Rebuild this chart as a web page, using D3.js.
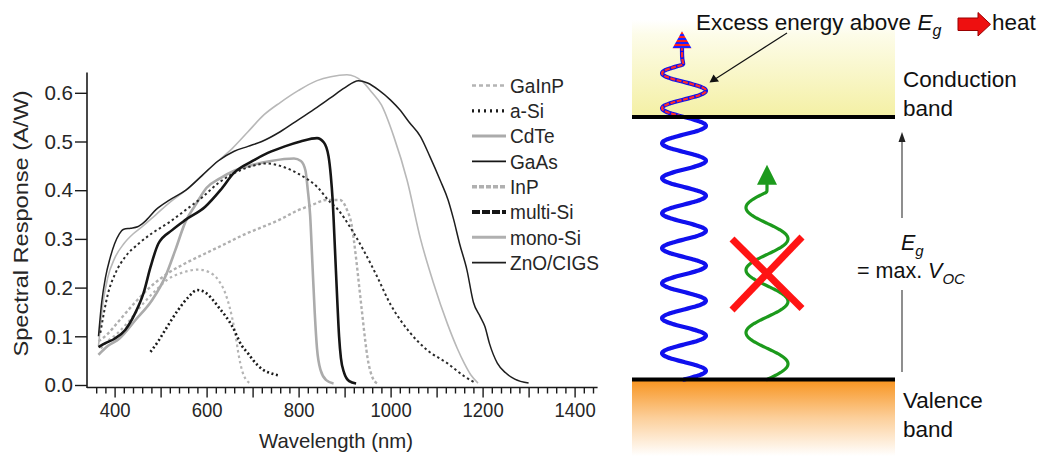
<!DOCTYPE html>
<html>
<head>
<meta charset="utf-8">
<script src="https://cdn.jsdelivr.net/npm/d3@7"></script>
<style>
  html, body { margin: 0; padding: 0; background: #fff; }
  svg { display: block; font-family: "Liberation Sans", Arial, sans-serif; }
</style>
</head>
<body>
<svg id="fig" width="1042" height="456"></svg>
<script>
// ---------- spectral response data (wavelength nm, response A/W) ----------
const seriesNames = ["GaInP", "a-Si", "CdTe", "GaAs", "InP", "multi-Si", "mono-Si", "ZnO/CIGS"];

const wlGaInP = [370, 385, 405, 430, 460, 490, 517, 545, 582, 605, 625, 640, 650, 662, 670, 677, 685, 694];
const srGaInP = [0.075, 0.09, 0.105, 0.13, 0.165, 0.195, 0.218, 0.23, 0.237, 0.232, 0.216, 0.19, 0.16, 0.107, 0.06, 0.03, 0.012, 0.004];

const wlASi = [478, 495, 510, 538, 560, 580, 597, 626, 656, 677, 690, 702, 723, 740, 755];
const srASi = [0.068, 0.09, 0.113, 0.154, 0.18, 0.195, 0.19, 0.16, 0.12, 0.08, 0.065, 0.05, 0.031, 0.024, 0.02];

const wlCdTe = [365, 385, 410, 445, 482, 510, 532, 554, 576, 600, 630, 660, 700, 740, 790, 805, 815, 820, 825, 830, 835, 840, 848, 860, 876];
const srCdTe = [0.062, 0.08, 0.095, 0.133, 0.175, 0.222, 0.277, 0.335, 0.37, 0.405, 0.425, 0.44, 0.452, 0.46, 0.465, 0.46, 0.44, 0.40, 0.35, 0.25, 0.15, 0.075, 0.03, 0.01, 0.003];

const wlGaAs = [365, 380, 400, 423, 445, 463, 478, 495, 525, 554, 597, 630, 659, 700, 732, 770, 804, 840, 855, 865, 870, 874, 879, 884, 888, 892, 899, 910, 925];
const srGaAs = [0.078, 0.086, 0.095, 0.113, 0.148, 0.189, 0.242, 0.29, 0.318, 0.339, 0.366, 0.40, 0.435, 0.46, 0.476, 0.49, 0.50, 0.507, 0.498, 0.47, 0.43, 0.38, 0.28, 0.175, 0.10, 0.055, 0.025, 0.008, 0.003];

const wlInP = [365, 385, 408, 445, 482, 517, 554, 597, 641, 684, 723, 760, 797, 830, 860, 890, 905, 915, 925, 932, 939, 945, 950, 957, 965, 975];
const srInP = [0.09, 0.105, 0.13, 0.17, 0.205, 0.23, 0.25, 0.27, 0.29, 0.31, 0.325, 0.34, 0.358, 0.37, 0.38, 0.38, 0.36, 0.33, 0.26, 0.20, 0.14, 0.09, 0.055, 0.025, 0.008, 0.002];

const wlMultiSi = [369, 386, 402, 423, 452, 482, 517, 554, 590, 626, 660, 700, 730, 760, 797, 840, 869, 884, 912, 941, 971, 1000, 1020, 1040, 1079, 1123, 1160, 1185];
const srMultiSi = [0.107, 0.189, 0.23, 0.263, 0.29, 0.312, 0.333, 0.359, 0.385, 0.415, 0.435, 0.45, 0.455, 0.45, 0.435, 0.407, 0.375, 0.362, 0.324, 0.277, 0.222, 0.165, 0.135, 0.11, 0.072, 0.045, 0.018, 0.004];

const wlMonoSi = [365, 375, 385, 400, 420, 440, 460, 490, 520, 555, 590, 625, 655, 690, 725, 760, 800, 840, 870, 905, 940, 960, 980, 1007, 1036, 1065, 1093, 1123, 1145, 1160, 1175, 1190];
const srMonoSi = [0.08, 0.17, 0.22, 0.26, 0.29, 0.31, 0.325, 0.35, 0.375, 0.40, 0.43, 0.46, 0.485, 0.52, 0.555, 0.58, 0.605, 0.625, 0.633, 0.637, 0.622, 0.60, 0.575, 0.51, 0.42, 0.30, 0.21, 0.127, 0.075, 0.045, 0.02, 0.004];

const wlZnOCIGS = [365, 372, 380, 390, 400, 410, 420, 435, 450, 465, 490, 520, 555, 590, 625, 660, 690, 720, 760, 800, 840, 870, 900, 930, 950, 975, 1000, 1020, 1040, 1065, 1085, 1108, 1125, 1137, 1150, 1166, 1180, 1195, 1205, 1215, 1232, 1250, 1270, 1300];
const srZnOCIGS = [0.10, 0.17, 0.22, 0.26, 0.29, 0.31, 0.32, 0.322, 0.325, 0.335, 0.36, 0.38, 0.40, 0.43, 0.46, 0.48, 0.49, 0.50, 0.52, 0.545, 0.57, 0.59, 0.61, 0.625, 0.62, 0.605, 0.585, 0.565, 0.54, 0.51, 0.47, 0.42, 0.38, 0.34, 0.29, 0.236, 0.17, 0.14, 0.12, 0.085, 0.045, 0.025, 0.012, 0.004];

const yTicks = [0, 0.1, 0.2, 0.3, 0.4, 0.5, 0.6];
const xLabelTicks = [400, 600, 800, 1000, 1200, 1400];

// line style per series: colour, width, dash
const seriesStyle = {
  "GaInP":    { c: "#b4b4b4", w: 2.2, d: "2.5,3" },
  "a-Si":     { c: "#1a1a1a", w: 2.6, d: "2,2.6" },
  "CdTe":     { c: "#ababab", w: 2.6, d: null },
  "GaAs":     { c: "#151515", w: 2.6, d: null },
  "InP":      { c: "#b0b0b0", w: 2.4, d: "3,2.5" },
  "multi-Si": { c: "#2a2a2a", w: 2.0, d: "2.4,2.8" },
  "mono-Si":  { c: "#b8b8b8", w: 1.6, d: null },
  "ZnO/CIGS": { c: "#1e1e1e", w: 1.5, d: null }
};
const legendStyle = {
  "GaInP":    { c: "#b4b4b4", w: 2.6, d: "4,3" },
  "a-Si":     { c: "#1a1a1a", w: 3.2, d: "2,4" },
  "CdTe":     { c: "#ababab", w: 3.0, d: null },
  "GaAs":     { c: "#151515", w: 1.6, d: null },
  "InP":      { c: "#b0b0b0", w: 3.4, d: "5,2" },
  "multi-Si": { c: "#151515", w: 4.0, d: "8,2" },
  "mono-Si":  { c: "#b0b0b0", w: 3.0, d: null },
  "ZnO/CIGS": { c: "#1e1e1e", w: 1.6, d: null }
};

const seriesData = {
  "GaInP": d3.zip(wlGaInP, srGaInP),
  "a-Si": d3.zip(wlASi, srASi),
  "CdTe": d3.zip(wlCdTe, srCdTe),
  "GaAs": d3.zip(wlGaAs, srGaAs),
  "InP": d3.zip(wlInP, srInP),
  "multi-Si": d3.zip(wlMultiSi, srMultiSi),
  "mono-Si": d3.zip(wlMonoSi, srMonoSi),
  "ZnO/CIGS": d3.zip(wlZnOCIGS, srZnOCIGS)
};

const svg = d3.select("#fig");
svg.append("rect").attr("width", 1042).attr("height", 456).attr("fill", "#fff");

// squeeze a text element horizontally to a fraction of its natural width
function condense(sel, k) {
  sel.each(function () {
    const len = this.getComputedTextLength();
    if (len > 0) d3.select(this).attr("textLength", len * k).attr("lengthAdjust", "spacingAndGlyphs");
  });
}

// ---------- left panel: spectral response plot ----------
const x = d3.scaleLinear().domain([340, 1450]).range([87, 597.6]);
const y = d3.scaleLinear().domain([0, 0.6]).range([385, 92.8]);
const axisColor = "#1a1a1a";
const textColor = "#262626";

const plot = svg.append("g");

const line = d3.line()
  .x(d => x(d[0]))
  .y(d => y(d[1]))
  .curve(d3.curveMonotoneX);

const drawOrder = ["GaInP", "InP", "CdTe", "mono-Si", "a-Si", "multi-Si", "ZnO/CIGS", "GaAs"];
drawOrder.forEach(name => {
  const s = seriesStyle[name];
  plot.append("path")
    .datum(seriesData[name])
    .attr("d", line)
    .attr("fill", "none")
    .attr("stroke", s.c)
    .attr("stroke-width", s.w)
    .attr("stroke-dasharray", s.d)
    .attr("stroke-linejoin", "round");
});

// y axis
const yAxisG = plot.append("g")
  .attr("transform", "translate(87,0)")
  .call(d3.axisLeft(y).tickValues(yTicks).tickFormat(d3.format(".1f")).tickSize(12).tickPadding(2).tickSizeOuter(0));
yAxisG.select(".domain").remove();
plot.append("line").attr("x1", 87).attr("x2", 87).attr("y1", 72.5).attr("y2", 388)
  .attr("stroke", axisColor).attr("stroke-width", 1.6);

// x axis: minor ticks every 20 nm, major every 100 nm, labels every 200 nm
const xAxisY = 387.5;
const minorTicks = d3.range(360, 1441, 20).filter(v => v % 100 !== 0);
const majorTicks = d3.range(400, 1401, 100);
plot.append("g").attr("transform", `translate(0,${xAxisY})`)
  .call(d3.axisBottom(x).tickValues(minorTicks).tickFormat("").tickSize(6).tickSizeOuter(0))
  .select(".domain").remove();
const xAxisG = plot.append("g").attr("transform", `translate(0,${xAxisY})`)
  .call(d3.axisBottom(x).tickValues(majorTicks)
    .tickFormat(v => xLabelTicks.includes(v) ? String(v) : "")
    .tickSize(10).tickPadding(5).tickSizeOuter(0));
xAxisG.select(".domain").remove();
plot.append("line").attr("x1", 87).attr("x2", 597.6).attr("y1", xAxisY).attr("y2", xAxisY)
  .attr("stroke", axisColor).attr("stroke-width", 1.6);

plot.selectAll(".tick line").attr("stroke", axisColor).attr("stroke-width", 1.4);
plot.selectAll(".tick text")
  .attr("fill", textColor)
  .style("font-size", "21px")
  .style("font-family", "Liberation Sans, Arial, sans-serif");
condense(xAxisG.selectAll(".tick text"), 0.88);
condense(yAxisG.selectAll(".tick text"), 0.98);

// axis titles
plot.append("text")
  .attr("transform", "translate(27.5,223.5) rotate(-90)")
  .attr("text-anchor", "middle")
  .attr("fill", textColor)
  .attr("textLength", 266)
  .attr("lengthAdjust", "spacingAndGlyphs")
  .style("font-size", "21px")
  .text("Spectral Response (A/W)");
plot.append("text")
  .attr("x", 336).attr("y", 448)
  .attr("text-anchor", "middle")
  .attr("fill", textColor)
  .attr("textLength", 154)
  .attr("lengthAdjust", "spacingAndGlyphs")
  .style("font-size", "21px")
  .text("Wavelength (nm)");

// legend
const legend = plot.append("g");
seriesNames.forEach((name, i) => {
  const yy = 85.5 + i * 25.3;
  const s = legendStyle[name];
  legend.append("line")
    .attr("x1", 472).attr("x2", 506).attr("y1", yy).attr("y2", yy)
    .attr("stroke", s.c).attr("stroke-width", s.w).attr("stroke-dasharray", s.d);
  const t = legend.append("text")
    .attr("x", 510).attr("y", yy).attr("dy", "0.36em")
    .attr("fill", textColor)
    .style("font-size", "20.5px")
    .text(name);
  condense(t, 0.93);
});

// ---------- right panel: band diagram ----------
const defs = svg.append("defs");
const gy = defs.append("linearGradient").attr("id", "condGrad").attr("x1", 0).attr("y1", 0).attr("x2", 0).attr("y2", 1);
gy.append("stop").attr("offset", "0").attr("stop-color", "#ffffff");
gy.append("stop").attr("offset", "0.15").attr("stop-color", "#fdfce9");
gy.append("stop").attr("offset", "1").attr("stop-color", "#f4f0a4");
const go = defs.append("linearGradient").attr("id", "valGrad").attr("x1", 0).attr("y1", 0).attr("x2", 0).attr("y2", 1);
go.append("stop").attr("offset", "0").attr("stop-color", "#f7931e");
go.append("stop").attr("offset", "0.5").attr("stop-color", "#fccf9a");
go.append("stop").attr("offset", "1").attr("stop-color", "#ffffff");
const stripes = defs.append("pattern").attr("id", "rbStripes").attr("patternUnits", "userSpaceOnUse")
  .attr("width", 10).attr("height", 4);
stripes.append("rect").attr("width", 10).attr("height", 4).attr("fill", "#2020ff");
stripes.append("rect").attr("width", 10).attr("height", 2).attr("fill", "#ff2020");
const clipTop = defs.append("clipPath").attr("id", "aboveBand");

// energy in units of the band gap: 0 = valence band edge, 1 = conduction band edge
const bandLevels = [0, 1];
const photonTop = [1.327, 0.818];      // arrow tip energies: blue (above gap), green (below gap)
const photonX = [684, 767];            // wave centre lines
const photonPeriod = [35, 62.5];       // wave period in px
const photonColor = ["#1010ee", "#1c9a1c"];

const yE = d3.scaleLinear().domain([0, 1]).range([379.5, 117]);
const bandX = [632, 895];

const diag = svg.append("g");
diag.append("rect").attr("x", bandX[0]).attr("y", 20).attr("width", bandX[1] - bandX[0]).attr("height", yE(1) - 20)
  .attr("fill", "url(#condGrad)");
diag.append("rect").attr("x", bandX[0]).attr("y", yE(0)).attr("width", bandX[1] - bandX[0]).attr("height", 456 - yE(0))
  .attr("fill", "url(#valGrad)");

clipTop.append("rect").attr("x", 600).attr("y", 0).attr("width", 200).attr("height", yE(1) + 1);

// photons as vertical sine waves ending in an arrow
function photon(i) {
  const cx = photonX[i], per = photonPeriod[i], amp = i === 0 ? 22 : 21;
  const yBottom = yE(0), tip = yE(photonTop[i]);
  const headH = i === 0 ? 17 : 20, headW = i === 0 ? 19 : 20;
  const stem = i === 0 ? 15 : 6;
  const yEnd = tip + headH + stem;
  // phase chosen so the wave leaves the band edge at the centre line and ends there too
  const nHalf = Math.floor((yBottom - yEnd) / (per / 2));
  const yWaveTop = yBottom - nHalf * per / 2;
  const pts = d3.range(0, 401).map(k => {
    const yy = yBottom - (yBottom - yWaveTop) * k / 400;
    return [cx + amp * Math.sin(2 * Math.PI * (yBottom - yy) / per), yy];
  });
  pts.push([cx - (i === 0 ? 2 : 0), yWaveTop - 4], [cx - (i === 0 ? 2 : 0), tip + headH]);
  const path = d3.line().curve(d3.curveBasis)(pts);
  const g = diag.append("g");
  g.append("path").attr("d", path).attr("fill", "none")
    .attr("stroke", photonColor[i]).attr("stroke-width", i === 0 ? 4.2 : 3.2).attr("stroke-linecap", "round");
  const ax = cx - (i === 0 ? 2 : 0);
  const head = g.append("path")
    .attr("d", `M${ax},${tip} L${ax + headW / 2},${tip + headH} L${ax - headW / 2},${tip + headH} Z`)
    .attr("fill", photonColor[i]);
  if (i === 0) {
    g.append("path").attr("d", path).attr("fill", "none").attr("clip-path", "url(#aboveBand)")
      .attr("stroke", "#ff2a2a").attr("stroke-width", 2.2).attr("stroke-dasharray", "5,1.5");
    head.attr("fill", "url(#rbStripes)");
  }
}
photon(0);
photon(1);

// band edges
bandLevels.forEach(e => {
  diag.append("line").attr("x1", bandX[0]).attr("x2", bandX[1]).attr("y1", yE(e)).attr("y2", yE(e))
    .attr("stroke", "#000").attr("stroke-width", 4.2);
});

// cross over the sub-gap photon
diag.append("line").attr("x1", 732).attr("y1", 239).attr("x2", 802).attr("y2", 308.5)
  .attr("stroke", "#ff1414").attr("stroke-width", 7);
diag.append("line").attr("x1", 802).attr("y1", 237).attr("x2", 732).attr("y2", 310)
  .attr("stroke", "#ff1414").attr("stroke-width", 7);

// gap arrow
const gapX = 902;
diag.append("line").attr("x1", gapX).attr("x2", gapX).attr("y1", 140).attr("y2", 218).attr("stroke", "#444").attr("stroke-width", 1.2);
diag.append("line").attr("x1", gapX).attr("x2", gapX).attr("y1", 290).attr("y2", 372).attr("stroke", "#444").attr("stroke-width", 1.2);
diag.append("path").attr("d", `M${gapX},132 L${gapX + 3.5},142 L${gapX - 3.5},142 Z`).attr("fill", "#222");

// annotation pointer
diag.append("line").attr("x1", 787).attr("y1", 33).attr("x2", 716).attr("y2", 78.5).attr("stroke", "#111").attr("stroke-width", 1.1);
diag.append("path").attr("d", "M709.5,82.5 L713.5,74.5 L719,81.5 Z").attr("fill", "#111");

// texts
const t1 = diag.append("text").attr("x", 696).attr("y", 30).attr("fill", "#111").style("font-size", "22.5px");
t1.append("tspan").text("Excess energy above ");
t1.append("tspan").style("font-style", "italic").text("E");
t1.append("tspan").style("font-style", "italic").style("font-size", "16px").attr("dy", 6).text("g");

// heat arrow
diag.append("path")
  .attr("d", "M958,18 L978,18 L978,12.5 L990.5,24.3 L978,36 L978,30.5 L958,30.5 Z")
  .attr("fill", "#ee1010").attr("stroke", "#9a0000").attr("stroke-width", 1);
diag.append("text").attr("x", 992).attr("y", 30).attr("fill", "#111").style("font-size", "22.5px").text("heat");

const labelStyle = t => t.attr("fill", "#111").style("font-size", "22.5px");
labelStyle(diag.append("text").attr("x", 903).attr("y", 87).text("Conduction"));
labelStyle(diag.append("text").attr("x", 903).attr("y", 116).text("band"));
labelStyle(diag.append("text").attr("x", 903).attr("y", 408).text("Valence"));
labelStyle(diag.append("text").attr("x", 903).attr("y", 437).text("band"));

const eg = diag.append("text").attr("x", 901).attr("y", 250).attr("fill", "#111").style("font-size", "21.5px");
eg.append("tspan").style("font-style", "italic").text("E");
eg.append("tspan").style("font-style", "italic").style("font-size", "15px").attr("dy", 6).text("g");

const voc = diag.append("text").attr("x", 857).attr("y", 278).attr("fill", "#111").style("font-size", "21.5px");
voc.append("tspan").text("= max. ");
voc.append("tspan").style("font-style", "italic").text("V");
voc.append("tspan").style("font-style", "italic").style("font-size", "15px").attr("dy", 6).text("OC");
</script>
</body>
</html>
